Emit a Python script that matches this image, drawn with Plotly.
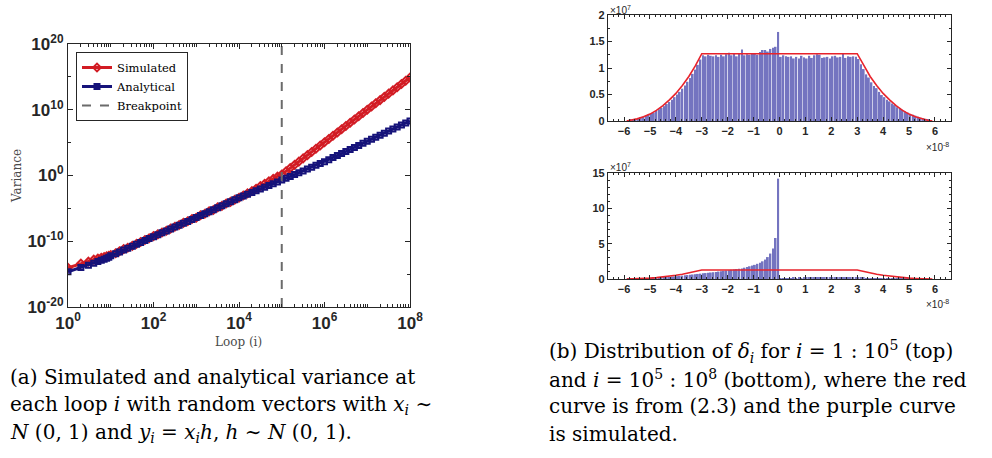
import plotly.graph_objects as go

# ---------------- data: left panel (variance vs loop) ----------------
loop_i = [1, 2, 3, 4, 5, 6, 7, 8, 9,
          10, 13, 16, 20, 25, 32, 40, 50, 63, 79,
          100, 126, 158, 200, 251, 316, 398, 501, 631, 794,
          1000, 1259, 1585, 1995, 2512, 3162, 3981, 5012, 6310, 7943,
          1.0e4, 1.26e4, 1.58e4, 2.0e4, 2.51e4, 3.16e4, 3.98e4, 5.01e4, 6.31e4, 7.94e4,
          1.0e5, 1.26e5, 1.58e5, 2.0e5, 2.51e5, 3.16e5, 3.98e5, 5.01e5, 6.31e5, 7.94e5,
          1.0e6, 1.26e6, 1.58e6, 2.0e6, 2.51e6, 3.16e6, 3.98e6, 5.01e6, 6.31e6, 7.94e6,
          1.0e7, 1.26e7, 1.58e7, 2.0e7, 2.51e7, 3.16e7, 3.98e7, 5.01e7, 6.31e7, 7.94e7,
          1.0e8]

# log10 of the variance
simulated_log10 = [-14.05, -13.40, -13.10, -12.80, -12.62, -12.50, -12.40, -12.30, -12.22,
                   -12.10, -11.82, -11.52, -11.20, -10.98, -10.70, -10.40, -10.12, -9.80, -9.55,
                   -9.22, -8.95, -8.66, -8.40, -8.08, -7.80, -7.52, -7.20, -6.95, -6.62,
                   -6.42, -6.05, -5.82, -5.45, -5.25, -4.85, -4.62, -4.25, -4.02, -3.68,
                   -3.38, -3.05, -2.72, -2.38, -2.02, -1.62, -1.25, -0.88, -0.52, -0.18,
                   0.15, 0.64, 1.13, 1.62, 2.11, 2.60, 3.09, 3.58, 4.07, 4.56,
                   5.05, 5.55, 6.04, 6.54, 7.03, 7.53, 8.02, 8.52, 9.01, 9.51,
                   10.00, 10.49, 10.98, 11.47, 11.96, 12.45, 12.94, 13.43, 13.92, 14.41,
                   14.90]

analytical_log10 = [-14.65, -13.98, -13.64, -13.33, -13.08, -12.90, -12.75, -12.60, -12.45,
                    -12.20, -11.92, -11.63, -11.34, -11.05, -10.76, -10.47, -10.18, -9.88, -9.59,
                    -9.30, -9.01, -8.72, -8.43, -8.14, -7.85, -7.56, -7.27, -6.98, -6.69,
                    -6.40, -6.10, -5.80, -5.50, -5.20, -4.90, -4.60, -4.30, -4.00, -3.70,
                    -3.40, -3.13, -2.86, -2.59, -2.32, -2.05, -1.78, -1.51, -1.24, -0.97,
                    -0.70, -0.42, -0.14, 0.14, 0.42, 0.70, 0.98, 1.26, 1.54, 1.82,
                    2.10, 2.41, 2.72, 3.03, 3.34, 3.65, 3.96, 4.27, 4.58, 4.89,
                    5.20, 5.51, 5.82, 6.13, 6.44, 6.75, 7.06, 7.37, 7.68, 7.99,
                    8.30]

breakpoint_loop = 1e5

simulated_var = [10 ** v for v in simulated_log10]
analytical_var = [10 ** v for v in analytical_log10]

# ---------------- data: right panels (histograms of delta_i) ----------------
# bins of width 0.1 (x 1e-8), first bin centred at -5.95; counts in units of 1e7
bin_first_center = -5.95
bin_width = 0.1

top_counts = [
    # -5.95 ... -3.05
    0.00, 0.01, 0.02, 0.03, 0.04, 0.05, 0.07, 0.08, 0.10, 0.12,
    0.14, 0.16, 0.19, 0.22, 0.25, 0.28, 0.32, 0.36, 0.40, 0.45,
    0.50, 0.55, 0.61, 0.67, 0.74, 0.81, 0.89, 0.97, 1.06, 1.16,
    # -2.95 ... -0.05
    1.24, 1.22, 1.25, 1.23, 1.22, 1.24, 1.21, 1.25, 1.22, 1.26,
    1.29, 1.24, 1.28, 1.22, 1.27, 1.35, 1.24, 1.26, 1.25, 1.28,
    1.27, 1.25, 1.30, 1.34, 1.34, 1.31, 1.36, 1.38, 1.40, 1.68,
    # 0.05 ... 2.95
    1.21, 1.24, 1.22, 1.21, 1.22, 1.18, 1.21, 1.18, 1.23, 1.20,
    1.18, 1.23, 1.19, 1.24, 1.26, 1.25, 1.19, 1.20, 1.21, 1.18,
    1.22, 1.23, 1.20, 1.21, 1.28, 1.19, 1.22, 1.21, 1.22, 1.21,
    # 3.05 ... 5.95
    1.17, 1.07, 0.98, 0.88, 0.82, 0.73, 0.66, 0.62, 0.55, 0.49,
    0.45, 0.40, 0.37, 0.33, 0.30, 0.26, 0.24, 0.21, 0.18, 0.16,
    0.13, 0.12, 0.10, 0.08, 0.06, 0.05, 0.04, 0.02, 0.01, 0.00]

bottom_counts = [
    # -5.95 ... -3.05
    0.00, 0.01, 0.02, 0.03, 0.04, 0.05, 0.06, 0.07, 0.09, 0.11,
    0.13, 0.15, 0.17, 0.19, 0.22, 0.25, 0.28, 0.31, 0.34, 0.37,
    0.40, 0.44, 0.48, 0.52, 0.56, 0.60, 0.64, 0.68, 0.72, 0.76,
    # -2.95 ... -0.05
    0.80, 0.84, 0.88, 0.92, 0.96, 1.00, 1.05, 1.10, 1.15, 1.20,
    1.25, 1.30, 1.35, 1.40, 1.45, 1.50, 1.60, 1.70, 1.80, 1.90,
    2.00, 2.15, 2.30, 2.50, 2.75, 3.10, 3.60, 4.30, 5.80, 14.20,
    # 0.05 ... 2.95
    0.10, 0.12, 0.10, 0.14, 0.12, 0.15, 0.13, 0.16, 0.14, 0.15,
    0.17, 0.15, 0.18, 0.16, 0.20, 0.18, 0.22, 0.19, 0.21, 0.23,
    0.20, 0.24, 0.22, 0.25, 0.23, 0.24, 0.26, 0.24, 0.25, 0.27,
    # 3.05 ... 5.95
    0.22, 0.18, 0.15, 0.12, 0.10, 0.08, 0.07, 0.06, 0.05, 0.04,
    0.03, 0.03, 0.02, 0.02, 0.02, 0.01, 0.01, 0.01, 0.01, 0.01,
    0.00, 0.00, 0.00, 0.00, 0.00, 0.00, 0.00, 0.00, 0.00, 0.00]

# red theoretical curve (x 1e-8, y x 1e7)
curve_x = [-5.9, -5.75, -5.5, -5.25, -5.0, -4.75, -4.5, -4.25, -4.0, -3.75, -3.5, -3.25, -3.0,
           3.0, 3.25, 3.5, 3.75, 4.0, 4.25, 4.5, 4.75, 5.0, 5.25, 5.5, 5.75, 5.9]
curve_y = [0.0, 0.01, 0.04, 0.08, 0.13, 0.20, 0.29, 0.40, 0.52, 0.67, 0.84, 1.04, 1.27,
           1.27, 1.04, 0.84, 0.67, 0.52, 0.40, 0.29, 0.20, 0.13, 0.08, 0.04, 0.01, 0.0]

left_xticks = [1, 1e2, 1e4, 1e6, 1e8]
left_xticklabels = ["10<sup>0</sup>", "10<sup>2</sup>", "10<sup>4</sup>", "10<sup>6</sup>", "10<sup>8</sup>"]
left_yticks = [1e-20, 1e-10, 1, 1e10, 1e20]
left_yticklabels = ["10<sup>-20</sup>", "10<sup>-10</sup>", "10<sup>0</sup>", "10<sup>10</sup>", "10<sup>20</sup>"]
hist_xticks = [-6, -5, -4, -3, -2, -1, 0, 1, 2, 3, 4, 5, 6]
top_yticks = [0, 0.5, 1, 1.5, 2]
bottom_yticks = [0, 5, 10, 15]

# ---------------- styling ----------------
W, H = 992, 458
RED = "#d21c24"
NAVY = "#16137a"
GRAY = "#6b6b6b"
BAR = "#7474c0"
CURVE = "#e8232b"
AX = "#262626"
TICKFONT = "Liberation Sans"
SERIF = "DejaVu Serif"


def px_x(p):
    return p / W


def px_y(p):
    return 1 - p / H


fig = go.Figure()

fig.add_trace(go.Scatter(
    x=loop_i, y=simulated_var, mode="lines+markers", name="Simulated",
    line=dict(color=RED, width=3),
    marker=dict(symbol="diamond-open", size=6, color=RED, line=dict(width=2)),
    xaxis="x", yaxis="y"))
fig.add_trace(go.Scatter(
    x=loop_i, y=analytical_var, mode="lines+markers", name="Analytical",
    line=dict(color=NAVY, width=3),
    marker=dict(symbol="square-open", size=5, color=NAVY, line=dict(width=2)),
    xaxis="x", yaxis="y"))
fig.add_trace(go.Scatter(
    x=[breakpoint_loop, breakpoint_loop], y=[1e-20, 1e20], mode="lines", name="Breakpoint",
    line=dict(color=GRAY, width=2, dash="dash"),
    xaxis="x", yaxis="y"))

fig.add_trace(go.Bar(
    x0=bin_first_center, dx=bin_width, y=top_counts, marker=dict(color=BAR, line=dict(width=0)),
    showlegend=False, xaxis="x2", yaxis="y2"))
fig.add_trace(go.Scatter(
    x=curve_x, y=curve_y, mode="lines", line=dict(color=CURVE, width=1.6),
    showlegend=False, xaxis="x2", yaxis="y2"))
fig.add_trace(go.Bar(
    x0=bin_first_center, dx=bin_width, y=bottom_counts, marker=dict(color=BAR, line=dict(width=0)),
    showlegend=False, xaxis="x3", yaxis="y3"))
fig.add_trace(go.Scatter(
    x=curve_x, y=curve_y, mode="lines", line=dict(color=CURVE, width=1.6),
    showlegend=False, xaxis="x3", yaxis="y3"))

common = dict(showline=True, linecolor=AX, linewidth=1.2, mirror="ticks", ticks="inside",
              tickcolor=AX, showgrid=False, zeroline=False, automargin=False)

# minor ticks for log x axis
minor_x = []
for dec in range(8):
    for m in range(2, 10):
        minor_x.append(m * 10 ** dec)
for dec in [1, 3, 5, 7]:
    minor_x.append(10 ** dec)

fig.update_layout(
    width=W, height=H, autosize=False,
    margin=dict(l=0, r=0, t=0, b=0, pad=0),
    paper_bgcolor="white", plot_bgcolor="white",
    bargap=0.3,
    showlegend=True,
    legend=dict(x=px_x(76), y=px_y(52), xanchor="left", yanchor="top",
                bgcolor="white", bordercolor=AX, borderwidth=1,
                font=dict(family=SERIF, size=11.5, color="black"),
                tracegroupgap=0, itemwidth=30),
    xaxis=dict(common, type="log", domain=[px_x(68), px_x(410)], range=[0, 8], anchor="y",
               tickvals=left_xticks, ticktext=left_xticklabels, ticklen=5,
               tickfont=dict(family=TICKFONT, size=17, color=AX, weight="bold"),
               minor=dict(tickvals=minor_x, ticks="inside", ticklen=3, tickcolor=AX, showgrid=False)),
    yaxis=dict(common, type="log", domain=[px_y(307), px_y(44)], range=[-20, 20], anchor="x",
               tickvals=left_yticks, ticktext=left_yticklabels, ticklen=5,
               tickfont=dict(family=TICKFONT, size=17, color=AX, weight="bold"),
               minor=dict(tickvals=[1e-15, 1e-5, 1e5, 1e15], ticks="inside", ticklen=3,
                          tickcolor=AX, showgrid=False)),
    xaxis2=dict(common, domain=[px_x(608), px_x(951)], range=[-6.62, 6.62], anchor="y2",
                tickvals=hist_xticks, ticklen=4,
                tickfont=dict(family=TICKFONT, size=11, color=AX, weight="bold"),
                minor=dict(dtick=0.2, ticks="inside", ticklen=2, tickcolor=AX, showgrid=False)),
    yaxis2=dict(common, domain=[px_y(121), px_y(15)], range=[0, 2], anchor="x2",
                tickvals=top_yticks, ticktext=["0", "0.5", "1", "1.5", "2"], ticklen=4,
                tickfont=dict(family=TICKFONT, size=11, color=AX, weight="bold"),
                minor=dict(dtick=0.25, ticks="inside", ticklen=2, tickcolor=AX, showgrid=False)),
    xaxis3=dict(common, domain=[px_x(608), px_x(951)], range=[-6.62, 6.62], anchor="y3",
                tickvals=hist_xticks, ticklen=4,
                tickfont=dict(family=TICKFONT, size=11, color=AX, weight="bold"),
                minor=dict(dtick=0.2, ticks="inside", ticklen=2, tickcolor=AX, showgrid=False)),
    yaxis3=dict(common, domain=[px_y(279), px_y(173)], range=[0, 15], anchor="x3",
                tickvals=bottom_yticks, ticklen=4,
                tickfont=dict(family=TICKFONT, size=11, color=AX, weight="bold"),
                minor=dict(dtick=1, ticks="inside", ticklen=2, tickcolor=AX, showgrid=False)),
)

ann = []


def add_text(text, x, y, size, family, color="black", xanchor="left", angle=0):
    ann.append(dict(text=text, x=px_x(x), y=px_y(y), xref="paper", yref="paper",
                    xanchor=xanchor, yanchor="middle", showarrow=False, textangle=angle,
                    font=dict(family=family, size=size, color=color)))


# axis titles of left panel
add_text("Variance", 17, 176, 12, SERIF, "#4a4a4a", xanchor="center", angle=-90)
add_text("Loop (i)", 238, 342, 12, SERIF, "#4a4a4a", xanchor="center")

# exponent labels of right panels
add_text("×10<sup>7</sup>", 608, 10, 10, TICKFONT, AX)
add_text("×10<sup>-8</sup>", 924, 147, 10, TICKFONT, AX)
add_text("×10<sup>7</sup>", 608, 167, 10, TICKFONT, AX)
add_text("×10<sup>-8</sup>", 924, 304, 10, TICKFONT, AX)

# captions
cap_a = ["(a) Simulated and analytical variance at",
         "each loop <i>i</i> with random vectors with <i>x<sub>i</sub></i> ∼",
         "<i>N</i> (0, 1) and <i>y<sub>i</sub></i> = <i>x<sub>i</sub>h</i>, <i>h</i> ∼ <i>N</i> (0, 1)."]
for k, line in enumerate(cap_a):
    add_text(line, 8, 377 + 28 * k, 20, SERIF)

cap_b = ["(b) Distribution of <i>δ<sub>i</sub></i> for <i>i</i> = 1 : 10<sup>5</sup> (top)",
         "and <i>i</i> = 10<sup>5</sup> : 10<sup>8</sup> (bottom), where the red",
         "curve is from (2.3) and the purple curve",
         "is simulated."]
for k, line in enumerate(cap_b):
    add_text(line, 547, 351 + 27.5 * k, 20, SERIF)

fig.update_layout(annotations=ann)

fig.write_html("out.html",
               config={"displayModeBar": False},
               post_script="document.body.style.margin='0';document.body.style.overflow='hidden';")
